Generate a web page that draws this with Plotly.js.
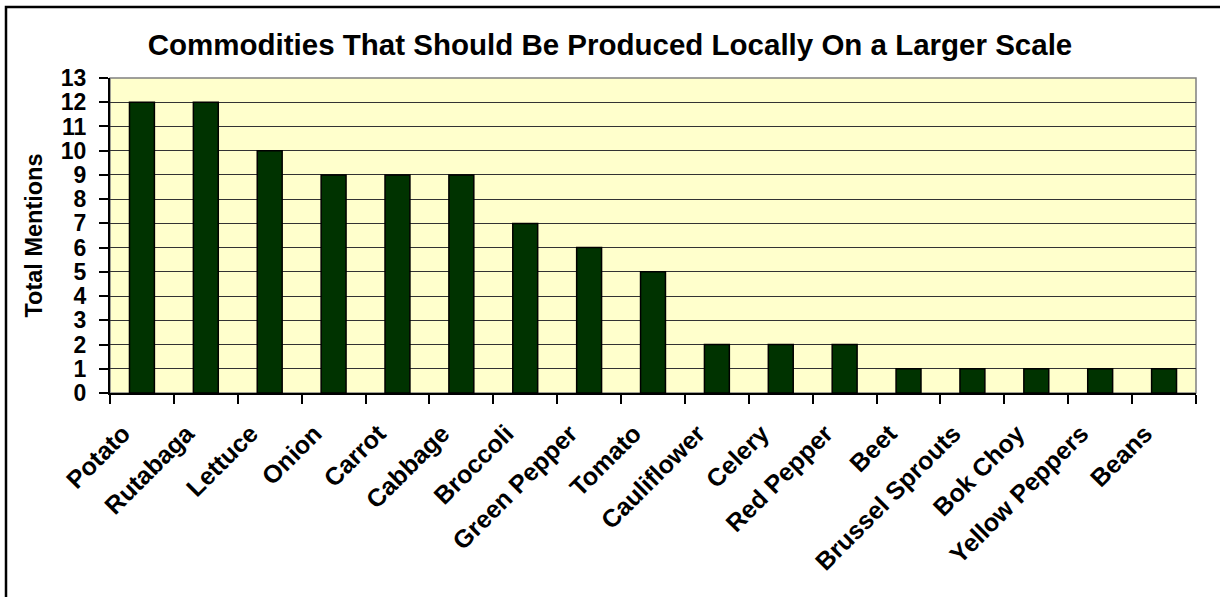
<!DOCTYPE html>
<html>
<head>
<meta charset="utf-8">
<script src="https://cdn.plot.ly/plotly-3.0.1.min.js"></script>
<style>
html,body{margin:0;padding:0;background:#fff;}
#chart{width:1220px;height:597px;}
</style>
</head>
<body>
<div id="chart"></div>
<script>
var categories = ["Potato","Rutabaga","Lettuce","Onion","Carrot","Cabbage","Broccoli","Green Pepper","Tomato","Cauliflower","Celery","Red Pepper","Beet","Brussel Sprouts","Bok Choy","Yellow Peppers","Beans"];
var mentions = [12,12,10,9,9,9,7,6,5,2,2,2,1,1,1,1,1];
var yTicks = [0,1,2,3,4,5,6,7,8,9,10,11,12,13];
var chartTitle = "Commodities That Should Be Produced Locally On a Larger Scale";
var yTitle = "Total Mentions";

var W = 1220, H = 597;
var mL = 110, mR = 24, mT = 78, mB = 204;
var pw = W - mL - mR, ph = H - mT - mB;
function px2x(p){ return (p - mL) / pw; }
function py2y(p){ return (H - mB - p) / ph; }

var font = "Liberation Sans, Arial, sans-serif";

var trace = {
  type: "bar",
  x: categories,
  y: mentions,
  marker: {color: "#003300", line: {color: "#000000", width: 1.5}},
  hoverinfo: "x+y"
};

var layout = {
  width: W, height: H,
  margin: {l: mL, r: mR, t: mT, b: mB, pad: 0},
  paper_bgcolor: "#ffffff",
  plot_bgcolor: "#FFFFCC",
  showlegend: false,
  bargap: 0.61,
  font: {family: font, color: "#000"},
  title: {
    text: "<b>" + chartTitle + "</b>",
    font: {family: font, size: 29.5, color: "#000"},
    x: 0.5, xref: "container", xanchor: "center",
    y: 1 - 45/H, yref: "container", yanchor: "middle"
  },
  xaxis: {
    type: "category",
    tickson: "boundaries",
    ticks: "outside", ticklen: 9, tickwidth: 2, tickcolor: "#000",
    tickangle: -45,
    ticklabelstandoff: 14,
    ticklabelshift: -19,
    tickfont: {family: font, size: 25, color: "#000", weight: "bold"},
    showline: true, linecolor: "#000", linewidth: 2,
    showgrid: false, zeroline: false,
    fixedrange: true
  },
  yaxis: {
    range: [0, 13],
    tickvals: yTicks,
    ticktext: yTicks.map(String),
    ticks: "outside", ticklen: 9, tickwidth: 2, tickcolor: "#000",
    ticklabelstandoff: 8,
    tickfont: {family: font, size: 23, color: "#000", weight: "bold"},
    showline: true, linecolor: "#000", linewidth: 2,
    showgrid: true, gridcolor: "#333333", gridwidth: 1,
    zeroline: false,
    title: {text: "<b>" + yTitle + "</b>", font: {family: font, size: 23.5, color: "#000"}, standoff: 12},
    fixedrange: true
  },
  shapes: [
    {type: "rect", xref: "paper", yref: "paper", x0: 0, x1: 1, y0: 0, y1: 1,
     line: {color: "#808080", width: 1.5}, fillcolor: "rgba(0,0,0,0)", layer: "below"},
    {type: "rect", xref: "paper", yref: "paper",
     x0: px2x(6), x1: px2x(1230), y0: py2y(610), y1: py2y(7),
     line: {color: "#000", width: 2.5}, fillcolor: "rgba(0,0,0,0)"}
  ]
};

Plotly.newPlot("chart", [trace], layout, {displayModeBar: false, staticPlot: true});
</script>
</body>
</html>
